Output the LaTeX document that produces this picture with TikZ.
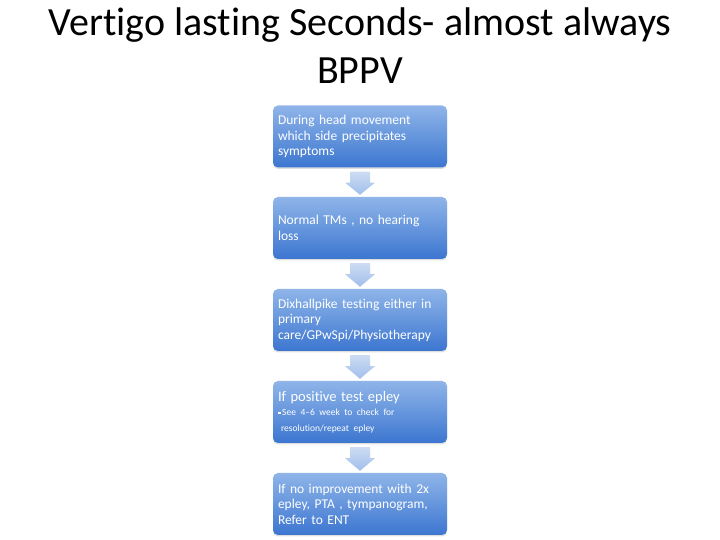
\documentclass[tikz,border=0pt]{standalone}
\usepackage{fontspec}
\setmainfont{Carlito}[Ligatures=NoCommon]
\usetikzlibrary{calc,shadows}
\definecolor{boxtop}{RGB}{143,181,233}
\definecolor{boxbot}{RGB}{60,118,208}
\definecolor{arrtop}{RGB}{205,220,243}
\definecolor{arrbot}{RGB}{160,190,235}
\tikzset{
  flowbox/.style={rounded corners=5bp, minimum width=174bp, minimum height=62bp,
    top color=boxtop, bottom color=boxbot, text=white, align=left,
    text width=164bp, inner xsep=5bp, inner ysep=0bp,
    font=\fontsize{13.5bp}{15.5bp}\selectfont,
    drop shadow={opacity=0.25, shadow xshift=0bp, shadow yshift=-1.5bp}},
  flowarrow/.style={top color=arrtop, bottom color=arrbot}
}
\begin{document}
\begin{tikzpicture}[x=1bp,y=1bp]
\useasboundingbox (0,0) rectangle (720,540);
\node[anchor=north, align=center, font=\fontsize{40bp}{48bp}\selectfont, inner sep=0pt]
  (title) at (360,532) {Vertigo lasting Seconds- almost always\\BPPV};
\node[flowbox] (b1) at (360,403.5) {During head movement\\which side precipitates\\symptoms};
\node[flowbox] (b2) at (360,312) {Normal TMs , no hearing\\loss};
\node[flowbox] (b3) at (360,220) {Dixhallpike testing either in\\primary\\care/GPwSpi/Physiotherapy};
\node[flowbox] (b4) at (360,128) {{\fontsize{14.5bp}{17bp}\selectfont If positive test epley}\\[2bp]
  {\fontsize{9.5bp}{12bp}\selectfont\raisebox{1.2bp}{\rule{2.6bp}{2.6bp}}\,See 4--6 week to check for\\\hspace*{3bp}resolution/repeat epley}};
\node[flowbox] (b5) at (360,36) {If no improvement with 2x\\epley, PTA , tympanogram,\\Refer to ENT};
\foreach \a/\b in {b1/b2,b2/b3,b3/b4,b4/b5}{
  \shade[flowarrow] ($(\a.south)+(-10,-4)$) -- ($(\a.south)+(10,-4)$) -- ($(\a.south)+(10,-15)$)
    -- ($(\a.south)+(15,-15)$) -- ($(\b.north)+(0,2)$) -- ($(\a.south)+(-15,-15)$)
    -- ($(\a.south)+(-10,-15)$) -- cycle;
}
\end{tikzpicture}
\end{document}
